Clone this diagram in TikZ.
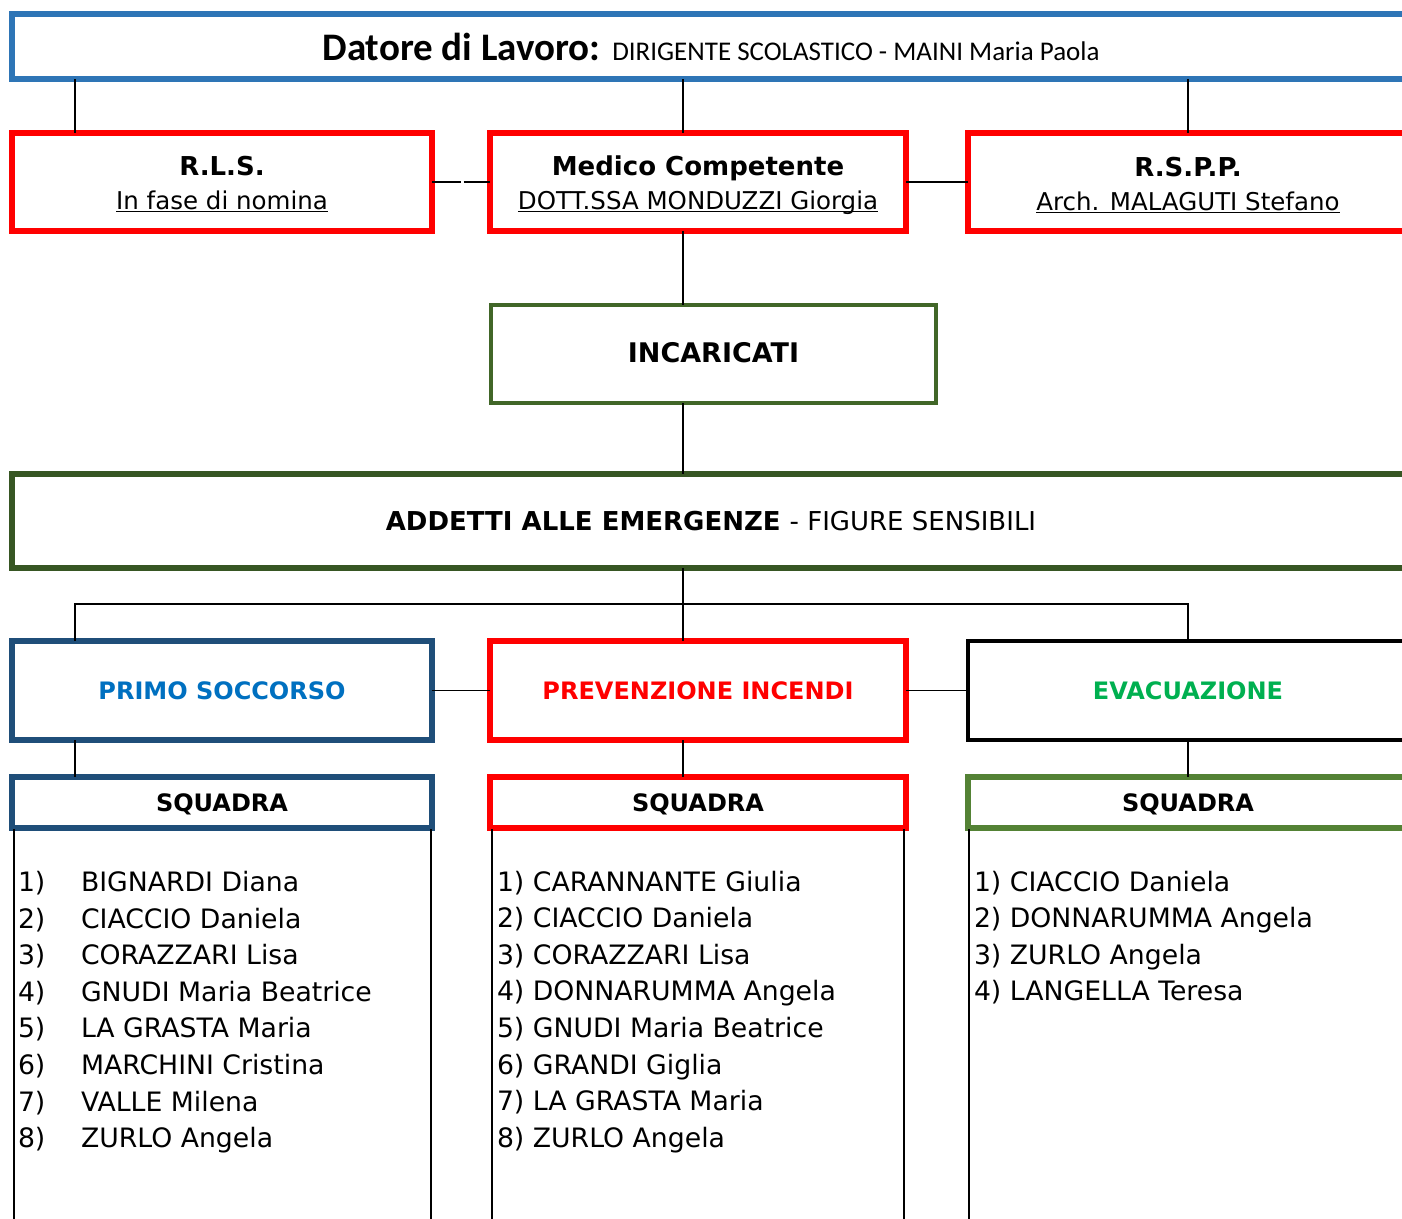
\documentclass[tikz,border=0pt]{standalone}
\usepackage{fontspec}
\setmainfont{DejaVu Sans}
\newfontfamily\calfont{Carlito}
\newcommand{\myul}[1]{\setbox0\hbox{#1}\rlap{\rule[-3pt]{\wd0}{1.3pt}}\box0}
\definecolor{topblue}{HTML}{2E75B6}
\definecolor{boxred}{HTML}{FF0000}
\definecolor{incgreen}{HTML}{416628}
\definecolor{addgreen}{HTML}{375623}
\definecolor{psblue}{HTML}{1F4E79}
\definecolor{pstext}{HTML}{0070C0}
\definecolor{evtext}{HTML}{00B050}
\definecolor{sqgreen}{HTML}{548235}
\begin{document}
\begin{tikzpicture}[x=1pt,y=-1pt,
  box/.style={draw, line width=5.5pt, inner sep=0pt, outer sep=0pt, fill=none},
  conn/.style={line width=1.8pt, black},
  frame/.style={line width=1.7pt, black},
  txt/.style={inner sep=0pt, outer sep=0pt, anchor=base},
  txtl/.style={inner sep=0pt, outer sep=0pt, anchor=base west},
  hb/.style={font=\fontsize{26}{30}\selectfont\bfseries},
  hr/.style={font=\fontsize{24.5}{28}\selectfont},
  hs/.style={font=\fontsize{24}{28}\selectfont\bfseries},
  lst/.style={font=\fontsize{26.7}{30}\selectfont}
]
\useasboundingbox (0,0) rectangle (1402,1218);
\clip (0,0) rectangle (1402,1218);

% coordinates for connector columns
\coordinate (cA) at (75,0);
\coordinate (cB) at (683,0);
\coordinate (bus) at (0,604);

% --- boxes ---
\node[box, draw=topblue, minimum width=1400pt, minimum height=65pt] (dl) at (712,46.5) {};
\node[box, draw=boxred, minimum width=420pt, minimum height=98pt] (rls) at (222,182) {};
\node[box, draw=boxred, minimum width=416pt, minimum height=98pt] (med) at (698,182) {};
\node[box, draw=boxred, minimum width=440pt, minimum height=98pt] (rspp) at (1188,182) {};
\node[box, draw=incgreen, line width=4.5pt, minimum width=445pt, minimum height=98pt] (inc) at (713.5,354) {};
\node[box, draw=addgreen, minimum width=1398pt, minimum height=94pt] (add) at (711,521) {};
\node[box, draw=psblue, minimum width=420pt, minimum height=99pt] (ps) at (222,690.5) {};
\node[box, draw=boxred, minimum width=416pt, minimum height=99pt] (pi) at (698,690.5) {};
\node[box, draw=black, line width=4.5pt, minimum width=440pt, minimum height=99pt] (ev) at (1188,690.5) {};
\node[box, draw=psblue, minimum width=420pt, minimum height=51pt] (sqps) at (222,802.5) {};
\node[box, draw=boxred, minimum width=416pt, minimum height=51pt] (sqpi) at (698,802.5) {};
\node[box, draw=sqgreen, minimum width=440pt, minimum height=51pt] (sqev) at (1188,802.5) {};

% --- list frames ---
\draw[frame] (14,829) -- (14,1230) (431,829) -- (431,1230);
\draw[frame] (492,829) -- (492,1230) (904,829) -- (904,1230);
\draw[frame] (969,829) -- (969,1230);

% --- connectors ---
\draw[conn] (dl.south -| cA) -- (rls.north -| cA);
\draw[conn] (dl.south -| cB) -- (med.north -| cB);
\draw[conn] (dl.south -| rspp.north) -- (rspp.north);
\draw[conn, dash pattern=on 29pt off 2.5pt on 40pt off 0pt] (rls.east) -- (med.west);
\draw[conn] (med.east) -- (rspp.west);
\draw[conn] (med.south -| cB) -- (inc.north -| cB);
\draw[conn] (inc.south -| cB) -- (add.north -| cB);
\draw[conn] (add.south -| cB) -- (pi.north -| cB);
\draw[conn] (ps.north -| cA) -- (bus -| cA) -- (bus -| ev.north) -- (ev.north);
\draw[conn] (ps.east) -- (pi.west);
\draw[conn] (pi.east) -- (ev.west);
\draw[conn] (ps.south -| cA) -- (sqps.north -| cA);
\draw[conn] (pi.south -| cB) -- (sqpi.north -| cB);
\draw[conn] (ev.south) -- (sqev.north);

% --- texts ---
\node[txt] (tdl) at (711,60) {\calfont\fontsize{39}{40}\selectfont\bfseries Datore di Lavoro: \fontsize{27}{30}\selectfont\mdseries DIRIGENTE SCOLASTICO - MAINI Maria Paola};

\node[txt, hb] (trls) at (222,175.5) {R.L.S.};
\node[txt, hr] (trls2) at (222,209) {\myul{In fase di nomina}};
\node[txt, hb] (tmed) at (698,175.5) {Medico Competente};
\node[txt, hr] (tmed2) at (698,209) {\myul{DOTT.SSA MONDUZZI Giorgia}};
\node[txt, hb] (trspp) at (1188,176) {R.S.P.P.};
\node[txt, hr] (trspp2) at (1188,210) {\myul{Arch. MALAGUTI Stefano}};

\node[txt, hb, font=\fontsize{27}{30}\selectfont\bfseries] (tinc) at (713.5,362.5) {INCARICATI};
\node[txt, hb] (tadd) at (711,530.5) {ADDETTI ALLE EMERGENZE \mdseries - FIGURE SENSIBILI};

\node[txt, hs, text=pstext] (tps) at (222,699) {PRIMO SOCCORSO};
\node[txt, hs, text=boxred] (tpi) at (698,699) {PREVENZIONE INCENDI};
\node[txt, hs, text=evtext] (tev) at (1188,699) {EVACUAZIONE};

\node[txt, hs] (tsq1) at (222,811) {SQUADRA};
\node[txt, hs] (tsq2) at (698,811) {SQUADRA};
\node[txt, hs] (tsq3) at (1188,811) {SQUADRA};

% --- lists ---
\foreach \t [count=\i] in {BIGNARDI Diana, CIACCIO Daniela, CORAZZARI Lisa, GNUDI Maria Beatrice, LA GRASTA Maria, MARCHINI Cristina, VALLE Milena, ZURLO Angela}{
  \node[txtl, lst] (psn\i) at (18,{891.5+(\i-1)*36.6}) {\i)};
  \node[txtl, lst] (psl\i) at (81,{891.5+(\i-1)*36.6}) {\t};
}
\foreach \t [count=\i] in {CARANNANTE Giulia, CIACCIO Daniela, CORAZZARI Lisa, DONNARUMMA Angela, GNUDI Maria Beatrice, GRANDI Giglia, LA GRASTA Maria, ZURLO Angela}{
  \node[txtl, lst] (pil\i) at (497,{891+(\i-1)*36.6}) {\i) \t};
}
\foreach \t [count=\i] in {CIACCIO Daniela, DONNARUMMA Angela, ZURLO Angela, LANGELLA Teresa}{
  \node[txtl, lst] (evl\i) at (974,{891+(\i-1)*36.6}) {\i) \t};
}
\end{tikzpicture}
\end{document}
